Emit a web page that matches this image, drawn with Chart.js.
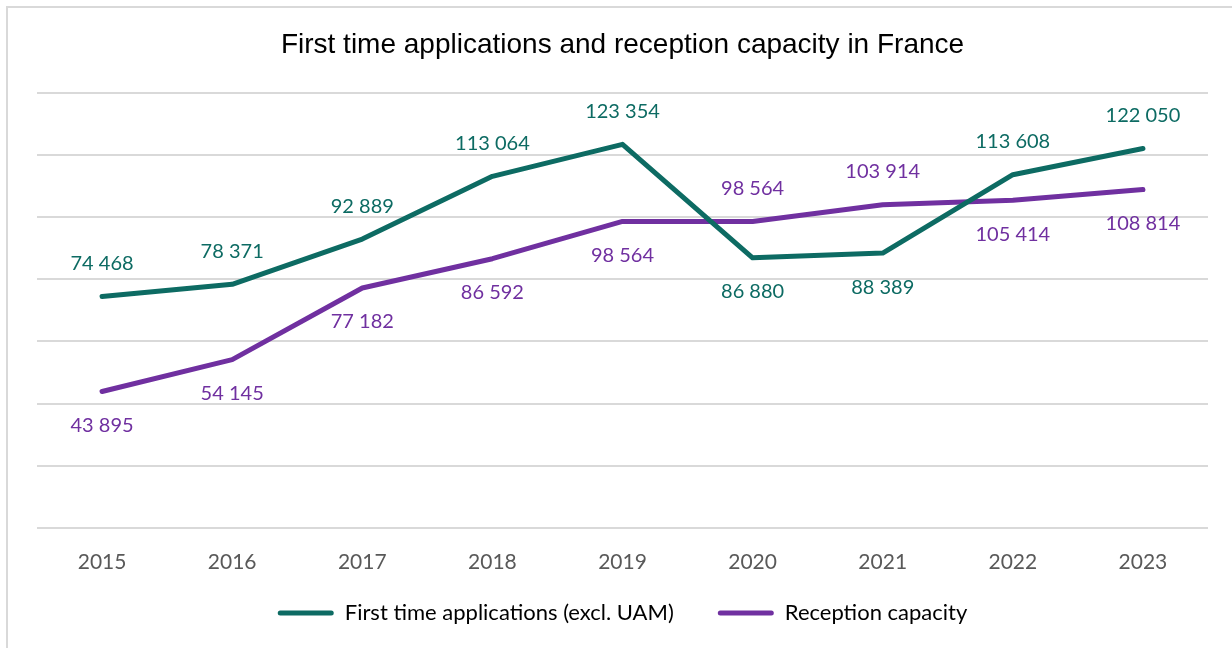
<!DOCTYPE html>
<html>
<head>
<meta charset="utf-8">
<script src="https://cdn.jsdelivr.net/npm/chart.js@4.4.1/dist/chart.umd.min.js"></script>
<style>
  html, body { margin: 0; padding: 0; background: #fff; }
  #wrap { position: absolute; left: 0; top: 0; width: 1232px; height: 648px; }
  #frame { position: absolute; left: 6px; top: 6px; width: 1240px; height: 660px; border: 2px solid #d9d9d9; box-sizing: border-box; }
  canvas { position: absolute; left: 0; top: 0; }
</style>
</head>
<body>
<div id="wrap">
  <div id="frame"></div>
  <canvas id="chart" width="1232" height="648"></canvas>
</div>
<script>
const years = ['2015', '2016', '2017', '2018', '2019', '2020', '2021', '2022', '2023'];
const firstApplications = [74468, 78371, 92889, 113064, 123354, 86880, 88389, 113608, 122050];
const receptionCapacity = [43895, 54145, 77182, 86592, 98564, 98564, 103914, 105414, 108814];

// where each value label sits relative to its point
const firstLabelSide = ['up', 'up', 'up', 'up', 'up', 'down', 'down', 'up', 'up'];
const capacityLabelSide = ['down', 'down', 'down', 'down', 'down', 'up', 'up', 'down', 'down'];

const TEAL = '#0d6b63';
const PURPLE = '#7030a0';
const TEXT_FONT = 'Lato, "Open Sans", sans-serif';

const fmt = v => String(v).replace(/\B(?=(\d{3})+(?!\d))/g, ' ');

const valueLabels = {
    id: 'valueLabels',
    afterDatasetsDraw(chart) {
        const { ctx } = chart;
        const sides = [firstLabelSide, capacityLabelSide];
        ctx.save();
        ctx.font = '20px ' + TEXT_FONT;
        ctx.textAlign = 'center';
        ctx.textBaseline = 'middle';
        chart.data.datasets.forEach((ds, di) => {
            const meta = chart.getDatasetMeta(di);
            ctx.fillStyle = ds.borderColor;
            meta.data.forEach((pt, i) => {
                const dy = sides[di][i] === 'up' ? -33 : 34;
                ctx.fillText(fmt(ds.data[i]), pt.x, pt.y + dy);
            });
        });
        ctx.restore();
    }
};

// x axis is squeezed to keep the legend close; let its labels spill below it
const unclipXLabels = {
    id: 'unclipXLabels',
    afterLayout(chart) {
        chart.scales.x.bottom = chart.height;
    }
};

new Chart(document.getElementById('chart'), {
    type: 'line',
    data: {
        labels: years,
        datasets: [
            { label: 'First time applications (excl. UAM)', data: firstApplications, borderColor: TEAL, backgroundColor: TEAL, borderWidth: 5, pointRadius: 0, tension: 0, borderCapStyle: 'round', borderJoinStyle: 'round' },
            { label: 'Reception capacity', data: receptionCapacity, borderColor: PURPLE, backgroundColor: PURPLE, borderWidth: 5, pointRadius: 0, tension: 0, borderCapStyle: 'round', borderJoinStyle: 'round' }
        ]
    },
    options: {
        responsive: false,
        animation: false,
        layout: { padding: { left: 37, right: 24, bottom: 14 } },
        plugins: {
            title: {
                display: true,
                text: 'First time applications and reception capacity in France',
                color: '#000',
                font: { family: '"Liberation Sans", Arial, sans-serif', size: 28, weight: 'normal' },
                padding: { top: 28, bottom: 31 }
            },
            legend: {
                position: 'bottom',
                labels: {
                    color: '#595959',
                    font: { family: TEXT_FONT, size: 22 },
                    boxWidth: 56,
                    boxHeight: 5,
                    padding: 44,
                    generateLabels: chart => chart.data.datasets.map((ds, i) => ({
                        text: ds.label, fillStyle: ds.borderColor, strokeStyle: ds.borderColor,
                        lineWidth: 0, borderRadius: 2.5, datasetIndex: i, hidden: false
                    }))
                }
            },
            tooltip: { enabled: false }
        },
        scales: {
            x: {
                offset: true,
                grid: { display: false },
                border: { display: false },
                ticks: { color: '#595959', font: { family: TEXT_FONT, size: 21 }, padding: 14 },
                afterFit: s => { s.height = 30; }
            },
            y: {
                min: 0, max: 140000,
                ticks: { display: false, stepSize: 20000 },
                grid: { color: '#d9d9d9', lineWidth: 2, drawTicks: false },
                border: { display: false },
                afterFit: s => { s.width = 0; }
            }
        }
    },
    plugins: [valueLabels, unclipXLabels]
});
</script>
</body>
</html>
